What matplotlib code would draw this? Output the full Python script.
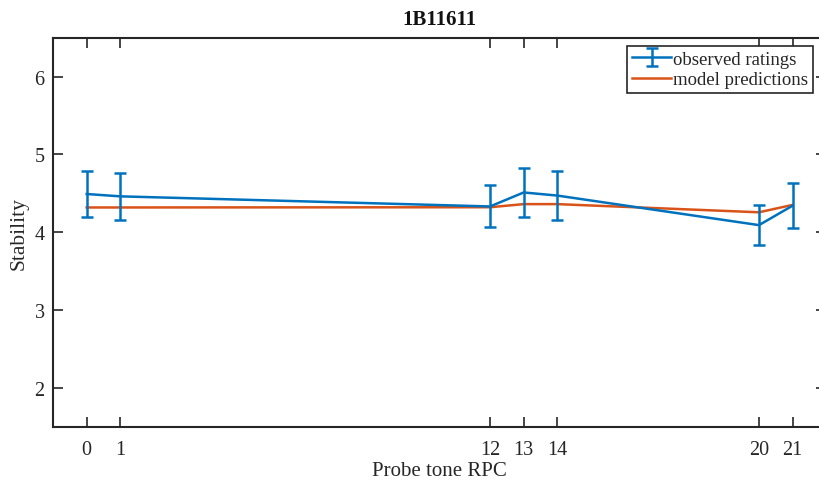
import matplotlib
matplotlib.use("Agg")
import matplotlib.pyplot as plt
import numpy as np

# Probe tone positions (RPC) and stability values
probe_rpc = [0, 1, 12, 13, 14, 20, 21]
observed = [4.49, 4.46, 4.33, 4.51, 4.47, 4.09, 4.34]
observed_err = [0.29, 0.30, 0.27, 0.32, 0.32, 0.26, 0.29]
predicted = [4.317, 4.317, 4.32, 4.36, 4.36, 4.255, 4.35]

title = "1B11611"
xlabel = "Probe tone RPC"
ylabel = "Stability"
yticks = [2, 3, 4, 5, 6]

blue = "#0072BD"
orange = "#D95319"
axis_col = "#262626"

plt.rcParams["font.family"] = ["Liberation Serif", "DejaVu Serif"]

fig = plt.figure(figsize=(8.19, 4.81), dpi=100)
ax = fig.add_axes([0.0648, 0.1112, 0.944, 0.8083])

eb = ax.errorbar(probe_rpc, observed, yerr=observed_err, color=blue, lw=1.8,
                 elinewidth=1.8, capsize=4, capthick=1.8,
                 label="observed ratings", zorder=3)
ln, = ax.plot(probe_rpc, predicted, color=orange, lw=1.8,
              label="model predictions", zorder=2)

ax.set_xlim(-1, 22)
ax.set_ylim(1.5, 6.5)
ax.set_xticks(probe_rpc)
ax.set_yticks(yticks)
ax.tick_params(direction="in", length=7, width=1.2, top=True, right=True,
               labelsize=14.5, colors=axis_col)
ax.tick_params(axis="x", pad=10)
ax.tick_params(axis="y", pad=6)
for s in ax.spines.values():
    s.set_linewidth(1.5)
    s.set_color(axis_col)

ax.set_xlabel(xlabel, fontsize=15, color=axis_col, labelpad=1)
ax.set_ylabel(ylabel, fontsize=15.5, color=axis_col, labelpad=4)
ax.set_title(title, fontsize=15, fontweight="bold", color="#111111", pad=10)

leg = ax.legend([eb, ln], ["observed ratings", "model predictions"],
                loc="upper right", bbox_to_anchor=(0.9927, 0.9029),
                bbox_transform=fig.transFigure, fontsize=13.5, frameon=True,
                fancybox=False, edgecolor=axis_col, framealpha=1,
                borderpad=0.25, labelspacing=0.2, handlelength=2.1,
                handletextpad=0.1, borderaxespad=0)
leg.get_frame().set_linewidth(1.2)
for t in leg.get_texts():
    t.set_color(axis_col)

fig.savefig("out.png", dpi=100)
